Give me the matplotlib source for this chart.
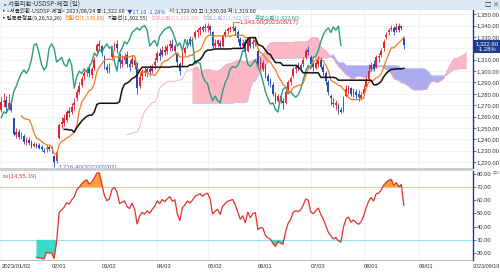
import matplotlib
matplotlib.use('Agg')
import matplotlib.pyplot as plt
from matplotlib.patches import Rectangle
from matplotlib.offsetbox import TextArea, HPacker, AnchoredOffsetbox
import numpy as np

FAM = ['Liberation Sans', 'Noto Sans CJK KR', 'DejaVu Sans']
KFAM = ['Noto Sans CJK KR', 'DejaVu Sans']
plt.rcParams['font.family'] = FAM

# ---------------- data (USD/KRW daily, 2023/01/02 .. 2023/08/24) ----------------
tick_idx = [0, 20, 40, 62, 82, 102, 123, 144, 166]
tick_labels = ['2023/01/02', '02/01', '03/02', '04/03', '05/02', '06/01', '07/03', '08/01', '09/01']
end_label = '2023/09/19'

opens = [1266, 1273, 1275, 1268, 1271, 1259, 1244, 1246, 1242, 1243, 1237, 1239, 1237, 1234, 1236, 1235, 1233, 1230, 1231, 1233,
         1233, 1225, 1221, 1241, 1253, 1254, 1257, 1265, 1264, 1270, 1276, 1282, 1288, 1296, 1299, 1302, 1297, 1303, 1318, 1322,
         1322, 1312, 1304, 1301, 1312, 1320, 1324, 1314, 1306, 1310, 1314, 1306, 1306, 1310, 1307, 1287, 1296, 1300, 1298, 1302,
         1300, 1305, 1310, 1316, 1314, 1319, 1318, 1322, 1324, 1318, 1316, 1306, 1305, 1316, 1322, 1328, 1325, 1330, 1334, 1336,
         1339, 1338, 1338, 1340, 1334, 1322, 1324, 1325, 1322, 1332, 1335, 1337, 1338, 1338, 1334, 1328, 1322, 1326, 1318, 1328,
         1324, 1326, 1318, 1306, 1302, 1304, 1296, 1292, 1288, 1280, 1274, 1278, 1274, 1272, 1283, 1290, 1296, 1302, 1305, 1303,
         1306, 1312, 1319, 1312, 1306, 1303, 1306, 1310, 1304, 1298, 1290, 1278, 1272, 1270, 1270, 1266, 1265, 1278, 1283, 1285,
         1280, 1282, 1280, 1276, 1280, 1286, 1293, 1302, 1306, 1304, 1312, 1314, 1320, 1330, 1334, 1337, 1338, 1336, 1340, 1338,
         1329]
highs = [1277, 1281, 1278, 1280, 1274, 1259, 1250, 1249, 1246, 1245, 1242, 1242, 1239, 1238, 1237, 1237, 1235, 1232, 1235, 1235,
         1234, 1226, 1230, 1254, 1260, 1262, 1266, 1268, 1272, 1276, 1284, 1290, 1296, 1300, 1304, 1306, 1304, 1312, 1325, 1327,
         1323, 1314, 1306, 1307, 1322, 1326, 1327, 1316, 1314, 1316, 1318, 1310, 1314, 1312, 1308, 1298, 1302, 1304, 1304, 1305,
         1306, 1312, 1318, 1320, 1322, 1323, 1324, 1327, 1328, 1324, 1317, 1308, 1318, 1322, 1328, 1331, 1330, 1336, 1338, 1340,
         1341, 1342, 1342, 1341, 1335, 1328, 1328, 1327, 1333, 1337, 1339, 1340, 1343, 1340, 1336, 1330, 1328, 1328, 1330, 1330,
         1328, 1330, 1320, 1312, 1310, 1306, 1298, 1294, 1290, 1282, 1280, 1280, 1276, 1284, 1292, 1296, 1304, 1306, 1308, 1307,
         1312, 1320, 1322, 1314, 1308, 1310, 1313, 1312, 1306, 1300, 1292, 1280, 1276, 1275, 1272, 1268, 1278, 1288, 1288, 1286,
         1285, 1284, 1283, 1282, 1288, 1296, 1306, 1308, 1310, 1314, 1316, 1320, 1328, 1334, 1338, 1341, 1340, 1342, 1342, 1341,
         1330]
lows = [1264, 1268, 1265, 1266, 1264, 1243, 1241, 1240, 1240, 1236, 1235, 1235, 1232, 1233, 1232, 1231, 1230, 1228, 1229, 1230,
        1228, 1216.4, 1219, 1240, 1250, 1252, 1255, 1260, 1262, 1266, 1274, 1280, 1286, 1292, 1296, 1295, 1294, 1301, 1316, 1318,
        1313, 1302, 1298, 1298, 1310, 1318, 1316, 1303, 1304, 1306, 1304, 1300, 1304, 1302, 1280, 1285, 1292, 1296, 1295, 1296,
        1298, 1302, 1308, 1310, 1312, 1314, 1315, 1318, 1318, 1315, 1304, 1297, 1304, 1314, 1320, 1322, 1322, 1328, 1330, 1332,
        1334, 1334, 1334, 1332, 1320, 1320, 1321, 1320, 1321, 1330, 1333, 1334, 1335, 1332, 1326, 1320, 1320, 1316, 1317, 1320,
        1320, 1322, 1304, 1302, 1300, 1294, 1288, 1286, 1278, 1272, 1273, 1272, 1267, 1271, 1282, 1288, 1294, 1298, 1300, 1300,
        1304, 1311, 1314, 1304, 1300, 1302, 1304, 1302, 1296, 1288, 1279, 1270, 1268, 1266, 1262, 1263.1, 1264, 1277, 1280, 1278,
        1277, 1276, 1274, 1275, 1279, 1285, 1292, 1300, 1300, 1303, 1308, 1312, 1318, 1328, 1332, 1335, 1332, 1334, 1334, 1336,
        1319.6]
closes = [1272.6, 1274, 1268, 1272, 1266, 1245, 1246, 1242, 1243, 1238, 1239, 1237, 1234, 1235.5, 1233, 1232, 1231, 1229, 1232, 1231,
          1231, 1220.3, 1228.7, 1252.8, 1255.6, 1258.9, 1264, 1263, 1268, 1272, 1282, 1287, 1293, 1298, 1301, 1298, 1302, 1310, 1323, 1324,
          1316, 1306, 1301, 1304, 1320, 1324, 1320, 1308, 1310, 1312, 1306, 1304, 1311, 1305, 1285, 1295, 1300, 1298, 1302, 1299,
          1304, 1308, 1316, 1313, 1319, 1317, 1321, 1324, 1320, 1322, 1308, 1300, 1316, 1320, 1326, 1324, 1328, 1334, 1336, 1338,
          1336, 1339, 1340, 1336, 1322, 1325, 1327, 1322, 1331, 1334, 1337, 1338, 1339, 1335, 1329, 1322, 1325, 1318, 1328, 1322,
          1326, 1327, 1306, 1308, 1307, 1296, 1291, 1289, 1280, 1274, 1278, 1274, 1272, 1282, 1290, 1294, 1302, 1304, 1303, 1305,
          1310, 1318, 1317, 1306, 1304, 1307, 1310, 1304, 1299, 1291, 1282, 1276, 1271, 1272, 1266, 1264, 1276, 1284, 1286, 1280,
          1282, 1279, 1277, 1279, 1284, 1292, 1300, 1305, 1302, 1312, 1313, 1318, 1326, 1332, 1336, 1338, 1334, 1339, 1336, 1339.7,
          1322.6]

O = np.array(opens, float); Hh = np.array(highs, float); L = np.array(lows, float); C = np.array(closes, float)
n = len(C)
idx = np.arange(n)

# ---------------- indicators ----------------
def mid(period):
    out = np.full(n, np.nan)
    for i in range(period - 1, n):
        out[i] = (Hh[i - period + 1:i + 1].max() + L[i - period + 1:i + 1].min()) / 2
    return out

conv = mid(9)
base = mid(26)
span1_raw = (conv + base) / 2
span2_raw = mid(52)
shift = 25
fx_idx = np.arange(n + shift)
span1 = np.full(n + shift, np.nan); span1[shift:] = span1_raw
span2 = np.full(n + shift, np.nan); span2[shift:] = span2_raw
lag_x = idx[shift:] - shift
lag_y = C[shift:]

delta = np.diff(C)
gain = np.where(delta > 0, delta, 0.0)
loss = np.where(delta < 0, -delta, 0.0)
rsi = np.full(n, np.nan)
ag = gain[:14].mean(); al = loss[:14].mean()
rsi[14] = 100 - 100 / (1 + ag / al) if al > 0 else 100
for i in range(15, n):
    ag = (ag * 13 + gain[i - 1]) / 14
    al = (al * 13 + loss[i - 1]) / 14
    rsi[i] = 100 - 100 / (1 + ag / al) if al > 0 else 100

# ---------------- figure ----------------
W, H = 500, 272
fig = plt.figure(figsize=(5, 2.72), dpi=100)
def fxp(px): return px / W
def fyp(py): return 1 - py / H

XMIN, XMAX = -0.5, 187.5
PLOT_W = 473
TXT = '#333333'
LBL_FS = 4.2

# title bar
fig.patches.append(Rectangle((0, fyp(9.5)), 1, 9.5 / H, transform=fig.transFigure,
                             facecolor='#dbe8f5', edgecolor='none', zorder=0))

ax = fig.add_axes([0, fyp(168), PLOT_W / W, (168 - 10) / H])
axr = fig.add_axes([0, fyp(260), PLOT_W / W, (260 - 170.5) / H])

for a in (ax, axr):
    a.set_xlim(XMIN, XMAX)
    a.set_facecolor('white')
    for s in ('left', 'top', 'bottom'):
        a.spines[s].set_visible(False)
    a.spines['right'].set_color('#1c3a8c')
    a.spines['right'].set_linewidth(1.0)
    a.yaxis.tick_right()
    a.tick_params(axis='y', length=2, width=0.5, color='#1c3a8c', pad=0.8,
                  labelsize=LBL_FS, labelcolor=TXT)
    a.set_xticks([])
    for t in tick_idx:
        a.axvline(t, color='#ececec', lw=0.5, zorder=0)

# main price panel
ax.set_ylim(1214.7, 1353.8)
pt = np.arange(1220, 1351, 10)
ax.set_yticks(pt)
ax.set_yticklabels(['' if v == 1320 else f'{v:,.2f}' for v in pt])
for v in pt:
    ax.axhline(v, color='#efefef', lw=0.5, zorder=0)

# cloud
ax.fill_between(fx_idx, span1, span2, where=span1 >= span2, interpolate=True,
                color='#fbb8c4', lw=0, zorder=1)
ax.fill_between(fx_idx, span1, span2, where=span2 > span1, interpolate=True,
                color='#ababf0', lw=0, zorder=1)
ax.plot(fx_idx, span1, color='#f4a9b6', lw=0.6, zorder=2)
ax.plot(fx_idx, span2, color='#b4b4f0', lw=0.5, zorder=2)

# candles
up = C >= O
col = np.where(up, '#e8222a', '#1e4fb8')
ax.vlines(idx, L, Hh, colors=col, lw=0.6, zorder=3)
body_lo = np.minimum(O, C)
body_h = np.maximum(np.abs(C - O), 0.4)
ax.bar(idx, body_h, bottom=body_lo, width=0.7, color=col, lw=0, zorder=3)

# ichimoku lines
ax.plot(lag_x, lag_y, color='#2e9a82', lw=1.0, zorder=4)
ax.plot(idx, conv, color='#f27a22', lw=0.9, zorder=4)
ax.plot(idx, base, color='#111111', lw=1.1, zorder=4)

# high / low markers
imax = int(np.argmax(Hh)); imin = int(np.argmin(L))
ax.plot([imax + 0.5, imax + 2.5], [Hh[imax], Hh[imax]], color='#e8222a', lw=0.5, zorder=5)
ax.text(imax + 2.8, Hh[imax], f'{Hh[imax]:,.2f}(2023/05/17)', color='#e8222a',
        fontsize=4.4, va='center', ha='left', zorder=6)
ax.plot([imin, imin, imin + 1.5], [L[imin], L[imin] - 1.5, L[imin] - 1.5], color='#5070c0', lw=0.5, zorder=5)
ax.text(imin + 1.8, L[imin] - 1.5, f'{L[imin]:,.2f}(2023/02/02)', color='#5070c0',
        fontsize=4.4, va='center', ha='left', zorder=6)

# RSI panel
axr.set_ylim(14.7, 82.6)
rt = np.arange(20, 81, 10)
axr.set_yticks(rt)
axr.set_yticklabels([f'{v:.2f}' for v in rt])
axr.axhline(70, color='#f7c49a', lw=0.7, zorder=1)
axr.axhline(30, color='#92dcea', lw=0.7, zorder=1)
axr.fill_between(idx, rsi, 70, where=rsi > 70, interpolate=True, color='#f7a03c', lw=0, zorder=2)
axr.fill_between(idx, rsi, 30, where=rsi < 30, interpolate=True, color='#3ed8c8', lw=0, zorder=2)
axr.plot(idx, rsi, color='#e5302a', lw=0.9, zorder=3)
axr.text(0.006, 0.965, 'rsi(14,55,19)', transform=axr.transAxes, fontsize=4.4,
         color='#d84030', va='top', ha='left')

# separators
fig.patches.append(Rectangle((0, fyp(170.5)), PLOT_W / W, 2.5 / H, transform=fig.transFigure,
                             facecolor='#cfcfcf', edgecolor='none'))
fig.patches.append(Rectangle((0, fyp(260.5)), PLOT_W / W, 0.8 / H, transform=fig.transFigure,
                             facecolor='#bbbbbb', edgecolor='none'))

# x labels
def idx2px(i): return (i - XMIN) / (XMAX - XMIN) * PLOT_W
for t, lab in zip(tick_idx, tick_labels):
    fig.text(fxp(idx2px(t)), fyp(266), lab, fontsize=LBL_FS, color=TXT, ha='left', va='center')
fig.text(fxp(473), fyp(266), end_label, fontsize=3.9, color=TXT, ha='left', va='center')

# current price box
fig.patches.append(Rectangle((fxp(474), fyp(52.5)), 26 / W, 12.5 / H, transform=fig.transFigure,
                             facecolor='#1f3c8f', edgecolor='none'))
fig.text(fxp(476), fyp(43.5), f'{C[-1]:,.2f}', fontsize=4.2, color='white', ha='left', va='center')
fig.text(fxp(478), fyp(49.3), '-1.28%', fontsize=4.2, color='white', ha='left', va='center')

# header texts: coloured pieces packed side by side
def seq(x0, y, pieces, fs):
    boxes = [TextArea(s, textprops=dict(color=c, fontsize=fs, family=KFAM)) for s, c in pieces]
    pack = HPacker(children=boxes, align='baseline', pad=0, sep=2)
    ab = AnchoredOffsetbox(loc='center left', child=pack, pad=0, borderpad=0, frameon=False,
                           bbox_to_anchor=(fxp(x0), fyp(y)), bbox_transform=fig.transFigure)
    fig.add_artist(ab)

fig.text(fxp(1.5), fyp(4.6), '▪', fontsize=4.6, color='#666666', va='center', ha='left', family=KFAM)
fig.text(fxp(8), fyp(4.6), '서울외환-USDSP-체결 (일)', fontsize=4.6, color='#333333', va='center', ha='left',
         family=KFAM)
fig.text(fxp(485), fyp(4.6), '□ ×', fontsize=4.6, color='#333333', va='center', ha='left', family=KFAM)
fig.text(fxp(492.5), fyp(173.5), '□×', fontsize=3.0, color='#555555', va='center', ha='left', family=KFAM)

seq(1, 11.2, [('▪<서울외환-USDSP-체결> 2023/08/24 종:1,322.60', '#222222'),
              ('▼17.10 -1.28%', '#1a4fd0'),
              ('시:1,329.00 고:1,330.00 저:1,319.60', '#222222')], 4.0)
seq(1, 17.6, [('▪일목균형표(9,26,52,26)', '#222222'),
              (f'전환선({conv[-1]:,.2f})', '#f27a22'),
              (f'기준선({base[-1]:,.2f})', '#222222'),
              (f'선행스팬1({span1_raw[-1]:,.2f})', '#f2a2b2'),
              (f'선행스팬2({span2_raw[-1]:,.2f})', '#a9a9ec'),
              (f'후행스팬({C[-1]:,.2f})', '#2e9a82')], 4.0)

fig.savefig('out.png', dpi=100)
